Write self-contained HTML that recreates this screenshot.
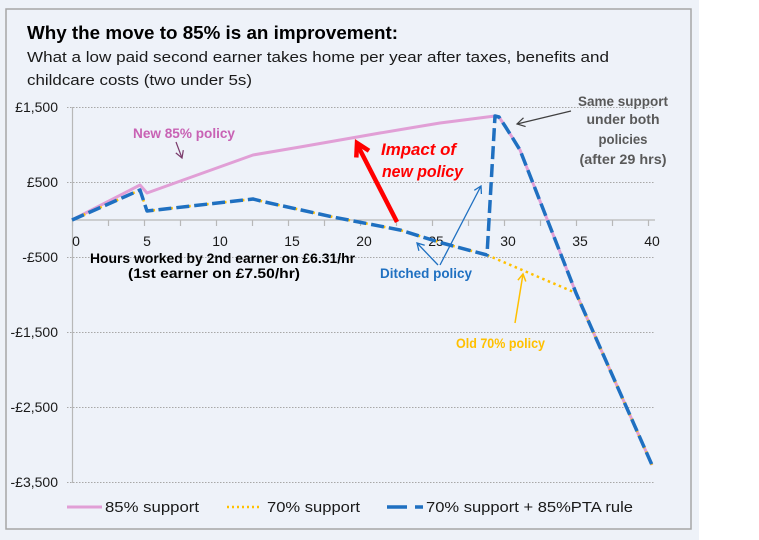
<!DOCTYPE html>
<html><head><meta charset="utf-8">
<style>
html,body{margin:0;padding:0;background:#fff;}
body{width:759px;height:540px;overflow:hidden;position:relative;}
svg{position:absolute;left:0;top:0;}
text{font-family:"Liberation Sans",sans-serif;}
</style></head>
<body>
<svg width="759" height="540" viewBox="0 0 759 540" xmlns="http://www.w3.org/2000/svg">
  <rect x="0" y="0" width="699" height="540" fill="#eef2f8"/>
  <rect x="6" y="9" width="685" height="520" fill="#eef2f9" stroke="#a6a6a6" stroke-width="1.5"/>

  <!-- Title -->
  <text x="27" y="39" font-size="18" font-weight="bold" fill="#000" textLength="371" lengthAdjust="spacingAndGlyphs">Why the move to 85% is an improvement:</text>
  <text x="27" y="62" font-size="15" fill="#1a1a1a" textLength="582" lengthAdjust="spacingAndGlyphs">What a low paid second earner takes home per year after taxes, benefits and</text>
  <text x="27" y="85" font-size="15" fill="#1a1a1a" textLength="225" lengthAdjust="spacingAndGlyphs">childcare costs (two under 5s)</text>

  <!-- gridlines -->
  <g stroke="#a8a8a8" stroke-width="1" stroke-dasharray="1.5 1.5">
    <line x1="67" y1="107.5" x2="655" y2="107.5"/>
    <line x1="67" y1="182.5" x2="655" y2="182.5"/>
    <line x1="67" y1="257.5" x2="655" y2="257.5"/>
    <line x1="67" y1="332.5" x2="655" y2="332.5"/>
    <line x1="67" y1="407.5" x2="655" y2="407.5"/>
    <line x1="67" y1="482.5" x2="655" y2="482.5"/>
  </g>
  <!-- axes -->
  <line x1="72.5" y1="107" x2="72.5" y2="483" stroke="#b8b8b8" stroke-width="1.2"/>
  <line x1="72" y1="220" x2="655" y2="220" stroke="#b8b8b8" stroke-width="1.2"/>
  <g stroke="#b8b8b8" stroke-width="1.2">
    <line x1="72.5" y1="220" x2="72.5" y2="226"/>
    <line x1="108.5" y1="220" x2="108.5" y2="226"/>
    <line x1="144.5" y1="220" x2="144.5" y2="226"/>
    <line x1="180.5" y1="220" x2="180.5" y2="226"/>
    <line x1="216.5" y1="220" x2="216.5" y2="226"/>
    <line x1="252.5" y1="220" x2="252.5" y2="226"/>
    <line x1="288.5" y1="220" x2="288.5" y2="226"/>
    <line x1="324.5" y1="220" x2="324.5" y2="226"/>
    <line x1="360.5" y1="220" x2="360.5" y2="226"/>
    <line x1="396.5" y1="220" x2="396.5" y2="226"/>
    <line x1="432.5" y1="220" x2="432.5" y2="226"/>
    <line x1="468.5" y1="220" x2="468.5" y2="226"/>
    <line x1="504.5" y1="220" x2="504.5" y2="226"/>
    <line x1="540.5" y1="220" x2="540.5" y2="226"/>
    <line x1="576.5" y1="220" x2="576.5" y2="226"/>
    <line x1="612.5" y1="220" x2="612.5" y2="226"/>
    <line x1="648.5" y1="220" x2="648.5" y2="226"/>
  </g>

  <!-- Y labels -->
  <g font-size="14" fill="#1a1a1a" text-anchor="end">
    <text x="58" y="112">£1,500</text>
    <text x="58" y="187">£500</text>
    <text x="58" y="262">-£500</text>
    <text x="58" y="337">-£1,500</text>
    <text x="58" y="412">-£2,500</text>
    <text x="58" y="487">-£3,500</text>
  </g>
  <!-- X labels -->
  <g font-size="14" fill="#1a1a1a" text-anchor="middle">
    <text x="76" y="246">0</text>
    <text x="147" y="246">5</text>
    <text x="220" y="246">10</text>
    <text x="292" y="246">15</text>
    <text x="364" y="246">20</text>
    <text x="436" y="246">25</text>
    <text x="508" y="246">30</text>
    <text x="580" y="246">35</text>
    <text x="652" y="246">40</text>
  </g>

  <text x="90" y="263" font-size="13.5" font-weight="bold" fill="#000" textLength="265" lengthAdjust="spacingAndGlyphs">Hours worked by 2nd earner on £6.31/hr</text>
  <text x="128" y="278" font-size="13.5" font-weight="bold" fill="#000" textLength="172" lengthAdjust="spacingAndGlyphs">(1st earner on £7.50/hr)</text>

  <!-- Series -->
  <polyline fill="none" stroke="#e19fd6" stroke-width="3" stroke-linejoin="round"
    points="72,220 140,185 147,193 253,155 300,147 380,133 440,123 495,116 499,117 505,126 512,137 520,150 576,293 652,465"/>
  <polyline fill="none" stroke="#ffc000" stroke-width="2.5" stroke-dasharray="2.5 3.5"
    points="72,220 140,190 147,211 253,199 265,202 333,217 400,230 442,243 487,255 576,293 652,465"/>
  <polyline fill="none" stroke="#1f70c1" stroke-width="3.5" stroke-dasharray="13 5" stroke-linejoin="round"
    points="72,220 140,190 147,211 253,199 265,202 333,217 400,230 442,243 487,255 495,116 499,117 505,126 512,137 520,150 576,293 652,465"/>

  <!-- Annotations -->
  <text x="133" y="138" font-size="14" font-weight="bold" fill="#c862b4" textLength="102" lengthAdjust="spacingAndGlyphs">New 85% policy</text>
  <g stroke="#7a3a6b" stroke-width="1.2" fill="none">
    <line x1="176" y1="142" x2="182" y2="158"/>
    <polyline points="183.3,150.1 182,158 175.8,152.9"/>
  </g>

  <text x="381" y="155" font-size="17" font-weight="bold" font-style="italic" fill="#ff0000" textLength="75" lengthAdjust="spacingAndGlyphs">Impact of</text>
  <text x="382" y="177" font-size="17" font-weight="bold" font-style="italic" fill="#ff0000" textLength="81" lengthAdjust="spacingAndGlyphs">new policy</text>
  <g stroke="#ff0000" stroke-width="4.5" fill="none" stroke-linecap="butt">
    <line x1="397" y1="222" x2="358" y2="146"/>
    <polyline points="356.3,157.5 357,143 369,150.8" stroke-linejoin="miter"/>
  </g>

  <g font-size="14" font-weight="bold" fill="#595959" text-anchor="middle">
    <text x="623" y="106" textLength="90" lengthAdjust="spacingAndGlyphs">Same support</text>
    <text x="623" y="124" textLength="73" lengthAdjust="spacingAndGlyphs">under both</text>
    <text x="623" y="144" textLength="49" lengthAdjust="spacingAndGlyphs">policies</text>
    <text x="623" y="164" textLength="87" lengthAdjust="spacingAndGlyphs">(after 29 hrs)</text>
  </g>
  <g stroke="#404040" stroke-width="1.2" fill="none">
    <line x1="571" y1="111" x2="517" y2="124"/>
    <polyline points="523.5,117.8 517,124 525.6,126.6"/>
  </g>

  <text x="380" y="278" font-size="14" font-weight="bold" fill="#1f70c1" textLength="92" lengthAdjust="spacingAndGlyphs">Ditched policy</text>
  <g stroke="#1f70c1" stroke-width="1.3" fill="none">
    <line x1="438" y1="265" x2="417" y2="243"/>
    <polyline points="418.9,250.8 417,243 424.7,245.3"/>
    <line x1="440" y1="265" x2="481" y2="186"/>
    <polyline points="474.3,190.3 481,186 481.4,194"/>
  </g>

  <text x="456" y="348" font-size="14" font-weight="bold" fill="#ffc000" textLength="89" lengthAdjust="spacingAndGlyphs">Old 70% policy</text>
  <g stroke="#ffc000" stroke-width="1.5" fill="none">
    <line x1="515" y1="323" x2="523" y2="274"/>
    <polyline points="517.9,280.2 523,274 525.8,281.5"/>
  </g>

  <!-- Legend -->
  <line x1="67" y1="507" x2="102" y2="507" stroke="#e19fd6" stroke-width="3"/>
  <text x="105" y="512" font-size="15" fill="#1a1a1a" textLength="94" lengthAdjust="spacingAndGlyphs">85% support</text>
  <line x1="227" y1="507" x2="260" y2="507" stroke="#ffc000" stroke-width="2.5" stroke-dasharray="2 3"/>
  <text x="267" y="512" font-size="15" fill="#1a1a1a" textLength="93" lengthAdjust="spacingAndGlyphs">70% support</text>
  <line x1="387" y1="507" x2="407" y2="507" stroke="#1f70c1" stroke-width="3.5"/>
  <line x1="415" y1="507" x2="423" y2="507" stroke="#1f70c1" stroke-width="3.5"/>
  <text x="426" y="512" font-size="15" fill="#1a1a1a" textLength="207" lengthAdjust="spacingAndGlyphs">70% support + 85%PTA rule</text>
</svg>
</body></html>
